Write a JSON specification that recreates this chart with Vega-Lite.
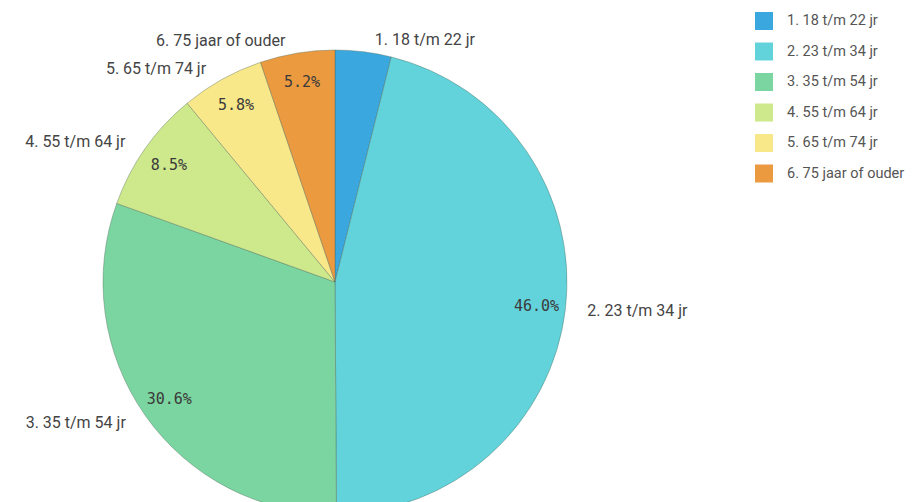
{
  "$schema": "https://vega.github.io/schema/vega-lite/v6.json",
  "width": 917,
  "height": 502,
  "autosize": "none",
  "padding": 0,
  "background": "#ffffff",
  "config": {"view": {"stroke": null}},
  "data": {
    "values": [
      {"cat": "1. 18 t/m 22 jr", "v": 0.039},
      {"cat": "2. 23 t/m 34 jr", "v": 0.460},
      {"cat": "3. 35 t/m 54 jr", "v": 0.306},
      {"cat": "4. 55 t/m 64 jr", "v": 0.085},
      {"cat": "5. 65 t/m 74 jr", "v": 0.058},
      {"cat": "6. 75 jaar of ouder", "v": 0.052}
    ]
  },
  "encoding": {
    "theta": {"field": "v", "type": "quantitative", "stack": true},
    "order": {"field": "cat", "type": "ordinal", "sort": "ascending"}
  },
  "layer": [
    {
      "mark": {"type": "arc", "x": 335, "y": 282, "outerRadius": 232, "stroke": "#4d6658", "strokeWidth": 0.7, "strokeOpacity": 0.55},
      "encoding": {
        "color": {
          "field": "cat", "type": "nominal",
          "scale": {
            "domain": ["1. 18 t/m 22 jr", "2. 23 t/m 34 jr", "3. 35 t/m 54 jr", "4. 55 t/m 64 jr", "5. 65 t/m 74 jr", "6. 75 jaar of ouder"],
            "range": ["#3aa8de", "#62d2db", "#7bd5a0", "#cde98b", "#f8e88a", "#ec9a40"]
          },
          "legend": {
            "title": null,
            "orient": "none",
            "legendX": 755,
            "legendY": 12,
            "symbolType": "square",
            "symbolSize": 324,
            "symbolStrokeWidth": 0,
            "symbolOpacity": 1,
            "labelFont": "Roboto",
            "labelFontSize": 14.5,
            "labelColor": "#555555",
            "labelOffset": 14,
            "rowPadding": 12.5,
            "labelLimit": 200
          }
        }
      }
    },
    {
      "mark": {"type": "text", "x": 335, "y": 282, "radius": 203, "font": "DejaVu Sans Mono", "fontSize": 15, "color": "#3a3a3a"},
      "encoding": {
        "detail": {"field": "cat", "type": "nominal"},
        "text": {"condition": {"test": "datum.v > 0.045", "field": "v", "type": "quantitative", "format": ".1%"}, "value": ""}
      }
    },
    {
      "mark": {"type": "text", "x": 335, "y": 282, "radius": 244, "dx": 10, "align": "left", "baseline": "middle", "font": "Roboto", "fontSize": 16, "color": "#444444"},
      "encoding": {
        "detail": {"field": "cat", "type": "nominal"},
        "text": {"condition": {"test": "datum.cat == '1. 18 t/m 22 jr' || datum.cat == '2. 23 t/m 34 jr'", "field": "cat", "type": "nominal"}, "value": ""}
      }
    },
    {
      "mark": {"type": "text", "x": 335, "y": 282, "radius": 244, "dx": -10, "align": "right", "baseline": "middle", "font": "Roboto", "fontSize": 16, "color": "#444444"},
      "encoding": {
        "detail": {"field": "cat", "type": "nominal"},
        "text": {"condition": {"test": "datum.cat != '1. 18 t/m 22 jr' && datum.cat != '2. 23 t/m 34 jr'", "field": "cat", "type": "nominal"}, "value": ""}
      }
    }
  ]
}
